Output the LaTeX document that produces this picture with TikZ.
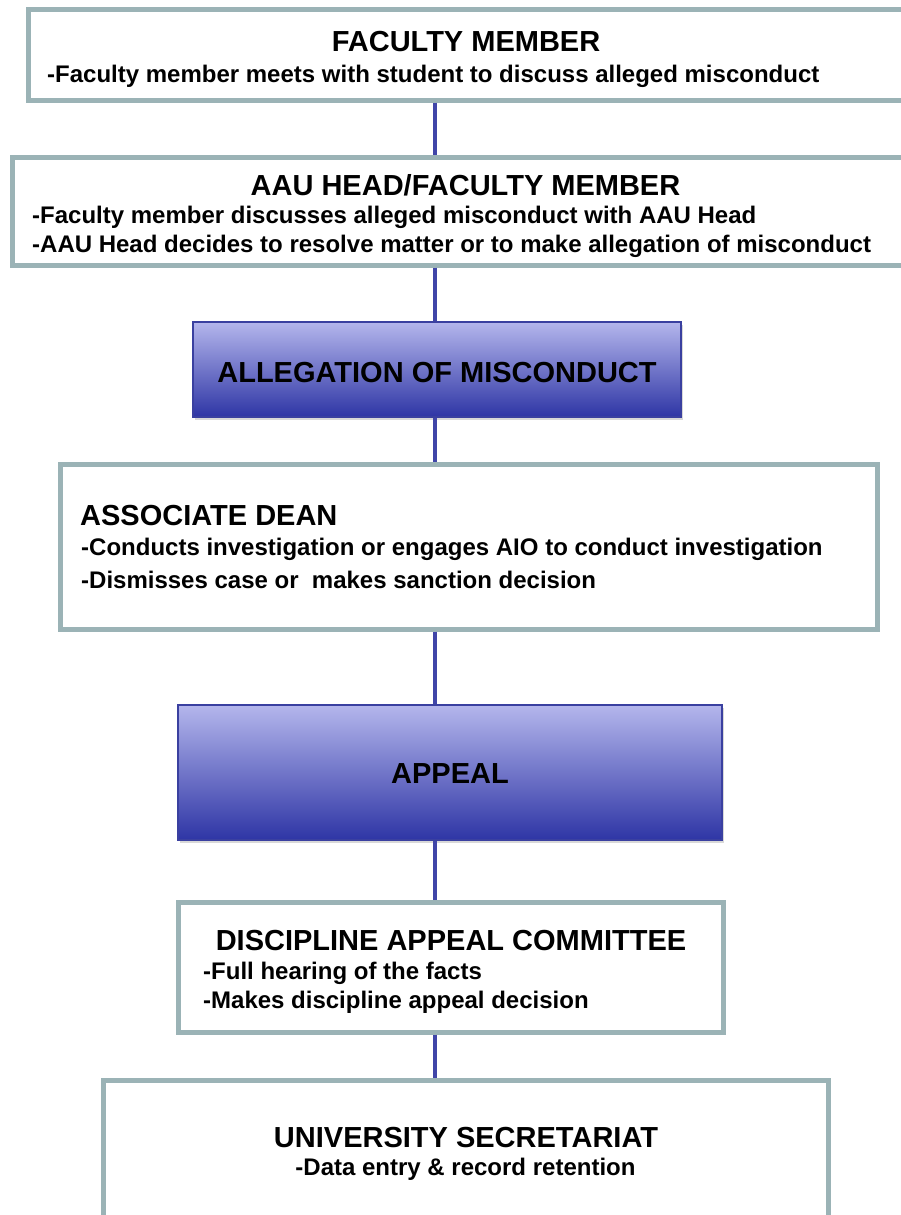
\documentclass[tikz,border=0pt]{standalone}
\usepackage{fontspec}
\setmainfont{Liberation Sans}
\usetikzlibrary{positioning,shadows}
\definecolor{framegray}{HTML}{9BB3B6}
\definecolor{linkblue}{HTML}{4045A8}
\definecolor{shadetop}{HTML}{B4B6EC}
\definecolor{shadebot}{HTML}{2E35A5}
\definecolor{edgeblue}{HTML}{3A40A0}
\begin{document}
\begin{tikzpicture}[x=1pt,y=1pt,
    stage/.style={rectangle, draw=framegray, line width=5pt, fill=white, inner sep=0pt},
    phase/.style={rectangle, draw=edgeblue, line width=1.5pt, top color=shadetop, bottom color=shadebot, inner sep=0pt,
        drop shadow={opacity=0.3, shadow xshift=1.5pt, shadow yshift=-2.5pt}},
    title/.style={font=\bfseries\fontsize{29}{34}\selectfont, anchor=base, inner sep=0pt},
    lines/.style={font=\bfseries\fontsize{24}{29}\selectfont, align=left, anchor=base west, inner sep=0pt},
    link/.style={draw=linkblue, line width=4pt}]
    \useasboundingbox[fill=white] (0,0) rectangle (900,-1215);
    \coordinate (spine) at (435,0);
    % boxes
    \node (faculty)   [stage, minimum width=880pt, minimum height=90pt]  at (468,-55) {};
    \node (aauhead)   [stage, minimum width=910pt, minimum height=108pt] at (467,-211) {};
    \node (allegation)[phase, minimum width=488pt, minimum height=95pt]  at (437,-369.5) {};
    \node (dean)      [stage, minimum width=817pt, minimum height=165pt] at (469,-546.5) {};
    \node (appeal)    [phase, minimum width=544pt, minimum height=135pt] at (450,-772.5) {};
    \node (committee) [stage, minimum width=545pt, minimum height=130pt] at (450.5,-967) {};
    \node (secretariat)[stage, minimum width=725pt, minimum height=180pt] at (465.5,-1170) {};
    % texts (base of a two-line node = baseline of its last line)
    \node (facultyT) [title] at (466,-52) {FACULTY MEMBER};
    \node (facultyB) [lines] at (47,-82) {-Faculty member meets with student to discuss alleged misconduct};
    \node (aauheadT) [title] at (465.5,-195) {AAU HEAD/FACULTY MEMBER};
    \node (aauheadB) [lines] at (32,-252) {-Faculty member discusses alleged misconduct with AAU Head\\-AAU Head decides to resolve matter or to make allegation of misconduct};
    \node (allegationT) [title] at (437,-382) {ALLEGATION OF MISCONDUCT};
    \node (deanT) [title, anchor=base west] at (80,-525) {ASSOCIATE DEAN};
    \node (deanB) [lines, font=\bfseries\fontsize{24}{33}\selectfont] at (81,-588) {-Conducts investigation or engages AIO to conduct investigation\\-Dismisses case or \ makes sanction decision};
    \node (appealT) [title] at (450,-783) {APPEAL};
    \node (committeeT) [title] at (451,-950) {DISCIPLINE APPEAL COMMITTEE};
    \node (committeeB) [lines] at (203,-1008) {-Full hearing of the facts\\-Makes discipline appeal decision};
    \node (secretariatT) [title] at (466,-1147) {UNIVERSITY SECRETARIAT};
    \node (secretariatB) [lines, anchor=base] at (465.5,-1175) {-Data entry \& record retention};
    % connectors
    \draw[link] (faculty.south -| spine) -- (aauhead.north -| spine);
    \draw[link] (aauhead.south -| spine) -- (allegation.north -| spine);
    \draw[link] (allegation.south -| spine) -- (dean.north -| spine);
    \draw[link] (dean.south -| spine) -- (appeal.north -| spine);
    \draw[link] (appeal.south -| spine) -- (committee.north -| spine);
    \draw[link] (committee.south -| spine) -- (secretariat.north -| spine);
\end{tikzpicture}
\end{document}
